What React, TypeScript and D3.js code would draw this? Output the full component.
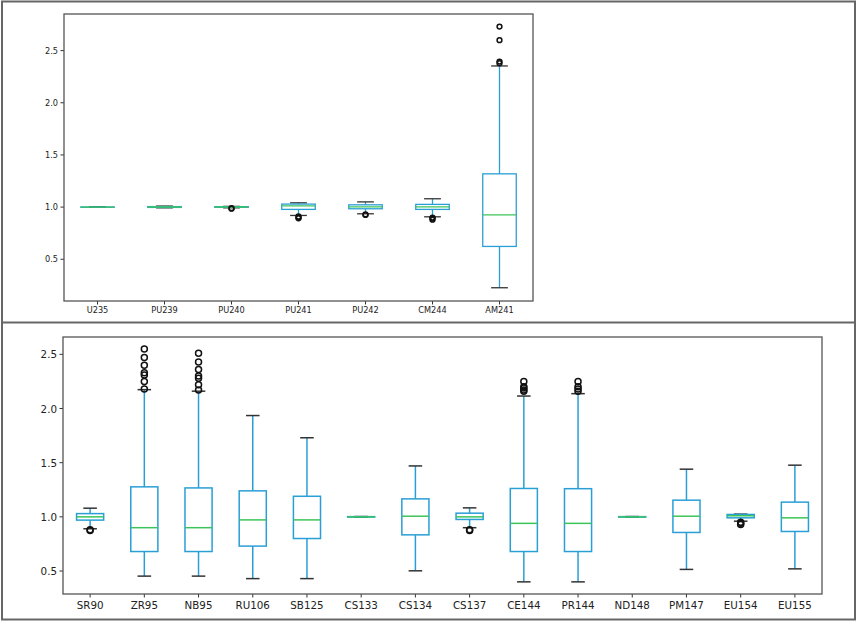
import * as d3 from 'd3';
import React from 'react';

// actinides panel
const topCategories = ['U235', 'PU239', 'PU240', 'PU241', 'PU242', 'CM244', 'AM241'];
const topQ1 = [0.999, 0.997, 0.998, 0.978, 0.984, 0.978, 0.623];
const topMedian = [1.0, 1.001, 1.001, 1.012, 1.003, 1.003, 0.926];
const topQ3 = [1.001, 1.005, 1.004, 1.029, 1.022, 1.026, 1.319];
const topLow = [0.998, 0.993, 0.993, 0.92, 0.936, 0.907, 0.227];
const topHigh = [1.002, 1.01, 1.007, 1.041, 1.05, 1.08, 2.353];
const topOutliers = [[], [], [0.985, 0.99], [0.91, 0.9, 0.893], [0.93, 0.925], [0.9, 0.89, 0.88], [2.38, 2.395, 2.6, 2.73]];
const topTicks = [0.5, 1.0, 1.5, 2.0, 2.5];

// fission products panel
const botCategories = ['SR90', 'ZR95', 'NB95', 'RU106', 'SB125', 'CS133', 'CS134', 'CS137', 'CE144', 'PR144', 'ND148', 'PM147', 'EU154', 'EU155'];
const botQ1 = [0.97, 0.68, 0.68, 0.73, 0.8, 0.998, 0.834, 0.976, 0.68, 0.68, 0.998, 0.856, 0.991, 0.865];
const botMedian = [1.0, 0.9, 0.9, 0.972, 0.972, 1.0, 1.006, 1.0, 0.94, 0.94, 1.0, 1.006, 1.01, 0.991];
const botQ3 = [1.03, 1.277, 1.267, 1.24, 1.19, 1.002, 1.166, 1.034, 1.262, 1.26, 1.002, 1.154, 1.022, 1.136];
const botLow = [0.89, 0.453, 0.453, 0.43, 0.43, 0.997, 0.502, 0.9, 0.4, 0.4, 0.997, 0.515, 0.96, 0.52];
const botHigh = [1.08, 2.174, 2.16, 1.935, 1.73, 1.003, 1.47, 1.083, 2.115, 2.137, 1.003, 1.44, 1.025, 1.477];
const botOutliers = [
  [0.875, 0.88],
  [2.18, 2.25, 2.31, 2.33, 2.4, 2.47, 2.55],
  [2.17, 2.22, 2.28, 2.3, 2.36, 2.43, 2.51],
  [], [], [], [],
  [0.875, 0.88],
  [2.16, 2.17, 2.19, 2.2, 2.25],
  [2.16, 2.18, 2.2, 2.25],
  [], [],
  [0.93, 0.94, 0.95],
  [],
];
const botTicks = [0.5, 1.0, 1.5, 2.0, 2.5];

const BOX = '#2a9fd6';
const MED = '#3cc45a';
const CAP = '#333';
const SPINE = '#555';
const FONT = 'DejaVu Sans, sans-serif';

interface PanelProps {
  categories: string[];
  q1: number[];
  median: number[];
  q3: number[];
  low: number[];
  high: number[];
  outliers: number[][];
  ticks: number[];
  left: number;
  right: number;
  top: number;
  bottom: number;
  domain: [number, number];
  fontSize: number;
  radius: number;
  stroke: number;
  labelY: number;
}

const BoxPanel: React.FC<PanelProps> = p => {
  const x = d3.scaleBand<string>().domain(p.categories).range([p.left, p.right]);
  const y = d3.scaleLinear().domain(p.domain).range([p.bottom, p.top]);
  const bw = x.bandwidth() * 0.5;
  const cw = bw * 0.5;
  return (
    <g>
      {p.categories.map((c, i) => {
        const cx = x(c)! + x.bandwidth() / 2;
        return (
          <g key={c}>
            <line x1={cx} x2={cx} y1={y(p.q3[i])} y2={y(p.high[i])} stroke={BOX} strokeWidth={p.stroke} />
            <line x1={cx} x2={cx} y1={y(p.q1[i])} y2={y(p.low[i])} stroke={BOX} strokeWidth={p.stroke} />
            <line x1={cx - cw / 2} x2={cx + cw / 2} y1={y(p.high[i])} y2={y(p.high[i])} stroke={CAP} strokeWidth={p.stroke} />
            <line x1={cx - cw / 2} x2={cx + cw / 2} y1={y(p.low[i])} y2={y(p.low[i])} stroke={CAP} strokeWidth={p.stroke} />
            <rect x={cx - bw / 2} y={y(p.q3[i])} width={bw} height={Math.max(0, y(p.q1[i]) - y(p.q3[i]))}
              fill='none' stroke={BOX} strokeWidth={p.stroke} />
            <line x1={cx - bw / 2} x2={cx + bw / 2} y1={y(p.median[i])} y2={y(p.median[i])} stroke={MED} strokeWidth={p.stroke} />
            {p.outliers[i].map((v, j) => (
              <circle key={j} cx={cx} cy={y(v)} r={p.radius} fill='none' stroke='#111' strokeWidth={1.5} />
            ))}
            <line x1={cx} x2={cx} y1={p.bottom} y2={p.bottom + 3.5} stroke={CAP} strokeWidth={1} />
            <text x={cx} y={p.labelY} textAnchor='middle' dominantBaseline='central' fontSize={p.fontSize} fill='#222'>{c}</text>
          </g>
        );
      })}
      {p.ticks.map(t => (
        <g key={t}>
          <line x1={p.left - 3.5} x2={p.left} y1={y(t)} y2={y(t)} stroke={CAP} strokeWidth={1} />
          <text x={p.left - 6} y={y(t)} textAnchor='end' dominantBaseline='central' fontSize={p.fontSize} fill='#222'>
            {d3.format('.1f')(t)}
          </text>
        </g>
      ))}
      <rect x={p.left} y={p.top} width={p.right - p.left} height={p.bottom - p.top} fill='none' stroke={SPINE} strokeWidth={1.3} />
    </g>
  );
};

export default function App() {
  return (
    <div style={{position: 'absolute', left: 0, top: 0}}>
      <svg width={858} height={622} style={{display: 'block', fontFamily: FONT}}>
        <rect x={0} y={0} width={858} height={622} fill='#fff' />
        <BoxPanel categories={topCategories} q1={topQ1} median={topMedian} q3={topQ3} low={topLow} high={topHigh}
          outliers={topOutliers} ticks={topTicks} left={64} right={533} top={14} bottom={301} domain={[0.1, 2.851]}
          fontSize={8.2} radius={2.4} stroke={1.3} labelY={310} />
        <BoxPanel categories={botCategories} q1={botQ1} median={botMedian} q3={botQ3} low={botLow} high={botHigh}
          outliers={botOutliers} ticks={botTicks} left={63} right={822} top={337} bottom={594} domain={[0.288, 2.66]}
          fontSize={10.3} radius={3} stroke={1.5} labelY={604.5} />
        <rect x={2} y={1.5} width={853} height={618} fill='none' stroke='#666' strokeWidth={2} />
        <line x1={2} x2={855} y1={322.5} y2={322.5} stroke='#666' strokeWidth={2} />
      </svg>
    </div>
  );
}
